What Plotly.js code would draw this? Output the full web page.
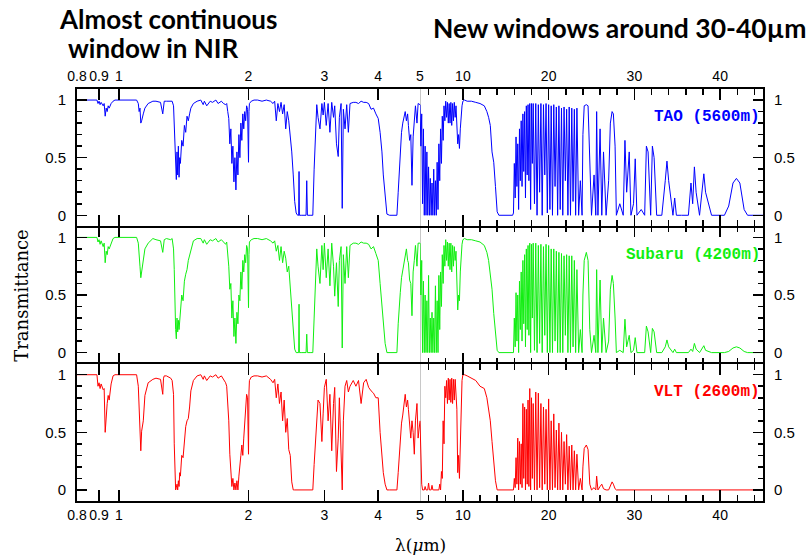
<!DOCTYPE html>
<html>
<head>
<meta charset="utf-8">
<script src="https://cdn.plot.ly/plotly-3.0.1.min.js"></script>
<style>
  html, body { margin: 0; padding: 0; background: #ffffff; }
  #chart { width: 810px; height: 556px; }
</style>
</head>
<body>
<div id="chart"></div>
<script>
// Wavelength grid (micrometres), shared by the three sites
const wavelength = [
  0.80, 0.89, 0.895, 0.90, 0.905, 0.91, 0.92, 0.925, 0.93, 0.935, 0.94, 0.945, 0.95, 0.96, 0.97, 0.98,
  1.10, 1.11, 1.115, 1.12, 1.125, 1.13, 1.14, 1.15, 1.17, 1.20,
  1.22, 1.25, 1.265, 1.27, 1.275, 1.29, 1.32,
  1.33, 1.34, 1.345, 1.35, 1.355, 1.36, 1.365, 1.37, 1.375, 1.38, 1.385, 1.39, 1.40, 1.41, 1.42, 1.43, 1.44, 1.45, 1.46, 1.47, 1.49, 1.52,
  1.55, 1.57, 1.58, 1.60, 1.63, 1.65, 1.68, 1.70, 1.73, 1.75, 1.77,
  1.78, 1.79, 1.80, 1.81, 1.82, 1.83, 1.84, 1.85, 1.86, 1.87, 1.88, 1.89, 1.90, 1.91, 1.92, 1.93, 1.94, 1.95, 1.96, 1.97, 1.98, 1.99, 2.00, 2.005, 2.01, 2.03, 2.06,
  2.10, 2.15, 2.20, 2.25, 2.28, 2.30, 2.32, 2.34, 2.36, 2.38, 2.40, 2.42, 2.44, 2.46, 2.48, 2.50, 2.52, 2.54, 2.56, 2.58, 2.60, 2.615, 2.62, 2.625, 2.65, 2.70, 2.72, 2.73, 2.74, 2.78, 2.82,
  2.84, 2.86, 2.88, 2.90, 2.93, 2.96, 2.98, 3.00, 3.03, 3.06, 3.09, 3.12, 3.15, 3.17, 3.20, 3.23, 3.25, 3.28, 3.30, 3.32, 3.35, 3.38, 3.41, 3.44, 3.50,
  3.55, 3.60, 3.65, 3.70, 3.75, 3.80, 3.85, 3.90, 3.95, 4.00, 4.04, 4.08, 4.11, 4.15, 4.19, 4.25, 4.30, 4.35, 4.40, 4.42,
  4.45, 4.48, 4.50, 4.53, 4.56, 4.60, 4.62, 4.65, 4.68, 4.70, 4.73, 4.76, 4.79, 4.82, 4.85, 4.88, 4.92, 4.95, 5.00,
  5.1, 5.2, 5.3, 5.4, 5.5, 5.6, 5.7, 5.8, 5.9,
  6.0, 6.1, 6.2, 6.3, 6.4, 6.5, 6.6, 6.7, 6.8, 6.9,
  7.0, 7.1, 7.2, 7.3, 7.4, 7.5, 7.6, 7.7, 7.8, 7.9,
  8.0, 8.1, 8.2, 8.3, 8.4, 8.5, 8.6, 8.7, 8.8, 8.9,
  9.0, 9.1, 9.2, 9.3, 9.4, 9.5, 9.6, 9.7, 9.8, 9.9, 10.0,
  10.2, 10.5, 11.0, 11.5, 12.0, 12.5, 12.8, 13.0, 13.2, 13.4, 13.6, 13.8, 14.0, 14.2, 15.0, 15.7,
  15.8, 15.9, 16.0, 16.1, 16.2, 16.3, 16.4, 16.5, 16.6, 16.7, 16.8, 16.9, 17.0, 17.1, 17.2, 17.3, 17.4, 17.5, 17.6, 17.7, 17.8, 17.9, 18.0, 18.1, 18.2,
  18.35, 18.5, 18.65, 18.8, 18.95, 19.1, 19.25, 19.4, 19.55, 19.7, 19.85, 20.0, 20.15, 20.3, 20.45, 20.6, 20.75, 20.9, 21.05, 21.2, 21.35, 21.5, 21.65, 21.8, 21.95, 22.1, 22.25, 22.4, 22.55, 22.7, 22.85, 23.0, 23.15, 23.3,
  23.5, 23.7, 23.9, 24.0, 24.15,
  24.4, 24.6, 24.8, 25.0, 25.3,
  25.5, 25.6, 25.75, 26.0, 26.2,
  26.4, 26.7, 27.0, 27.2, 27.4,
  27.55, 27.75, 27.9, 28.3, 28.7,
  28.9, 29.1, 29.4, 29.6, 29.9,
  30.1, 30.3, 30.8, 31.2, 31.4,
  31.6, 31.9, 32.1, 32.3, 32.6,
  33.2, 33.6, 33.8, 34.0, 34.5,
  34.7, 34.9, 35.5, 36.3, 36.6,
  36.8, 37.0, 37.2, 37.6, 37.9,
  38.1, 38.3, 39.0, 40.5, 41.0,
  41.5, 41.9, 42.3, 42.8, 43.2,
  44.0, 45.0
];

// TAO (5600 m) transmittance
const taoT = [
  1.0, 1.0, 0.97, 0.99, 0.96, 0.98, 0.95, 0.97, 0.86, 0.93, 0.9, 0.95, 0.93, 0.97, 0.99, 1.0,
  1.0, 0.97, 0.9, 0.93, 0.8, 0.82, 0.88, 0.93, 0.97, 0.99,
  0.99, 0.98, 0.88, 0.97, 0.99, 0.99, 0.99,
  0.99, 0.95, 0.8, 0.6, 0.4, 0.31, 0.55, 0.35, 0.6, 0.33, 0.5, 0.45, 0.65, 0.6, 0.78, 0.72, 0.86, 0.82, 0.88, 0.93, 0.97, 0.99,
  1.0, 0.96, 0.99, 0.95, 0.99, 0.98, 1.0, 0.97, 0.99, 0.97, 0.96,
  0.97, 0.9, 0.84, 0.62, 0.75, 0.45, 0.6, 0.29, 0.5, 0.22, 0.55, 0.35, 0.7, 0.5, 0.8, 0.65, 0.88, 0.75, 0.9, 0.82, 0.95, 0.92, 0.46, 0.9, 0.97, 0.99, 1.0,
  1.0, 0.99, 1.0, 0.99, 0.97, 0.99, 0.82, 0.97, 0.9, 0.98, 0.88, 0.96, 0.75, 0.9, 0.82, 0.7, 0.55, 0.35, 0.12, 0.02, 0.0, 0.0, 0.38, 0.0, 0.0, 0.0, 0.0, 0.3, 0.0, 0.0, 0.0,
  0.4, 0.75, 0.96, 0.85, 0.75, 0.97, 0.87, 0.98, 0.78, 0.97, 0.72, 0.98, 0.85, 0.95, 0.62, 0.51, 0.85, 0.97, 0.06, 0.92, 0.75, 0.96, 0.72, 0.97, 0.98,
  0.98, 0.97, 0.99, 0.98, 0.98, 0.97, 0.92, 0.93, 0.88, 0.84, 0.72, 0.55, 0.35, 0.17, 0.01, 0.0, 0.0, 0.0, 0.0, 0.0,
  0.2, 0.45, 0.55, 0.72, 0.8, 0.88, 0.9, 0.82, 0.88, 0.78, 0.65, 0.7, 0.26, 0.68, 0.88, 0.95, 0.8, 0.97, 0.96,
  0.6, 0.88, 0.1, 0.75, 0.0, 0.6, 0.0, 0.55, 0.0,
  0.42, 0.0, 0.32, 0.0, 0.28, 0.0, 0.4, 0.0, 0.3, 0.0,
  0.46, 0.05, 0.62, 0.3, 0.75, 0.45, 0.86, 0.65, 0.95, 0.82,
  0.99, 0.85, 0.98, 0.8, 0.97, 0.8, 0.98, 0.78, 0.97, 0.82,
  0.98, 0.85, 0.95, 0.75, 0.62, 0.7, 0.58, 0.75, 0.9, 0.95, 0.99,
  1.0, 0.99, 0.99, 0.98, 0.97, 0.95, 0.9, 0.85, 0.78, 0.55, 0.46, 0.25, 0.03, 0.0, 0.0, 0.0,
  0.0, 0.02, 0.45, 0.15, 0.68, 0.25, 0.62, 0.05, 0.75, 0.3, 0.82, 0.25, 0.88, 0.38, 0.9, 0.15, 0.95, 0.35, 0.96, 0.3, 0.97, 0.05, 0.97, 0.45, 0.97,
  0.1, 0.97, 0.0, 0.96, 0.2, 0.97, 0.0, 0.96, 0.35, 0.97, 0.02, 0.96, 0.05, 0.95, 0.0, 0.96, 0.25, 0.94, 0.0, 0.95, 0.05, 0.93, 0.0, 0.94, 0.3, 0.92, 0.0, 0.94, 0.0, 0.93, 0.12, 0.92, 0.0, 0.93,
  0.0, 0.3, 0.0, 0.7, 0.95,
  0.96, 0.95, 0.4, 0.0, 0.35,
  0.0, 0.9, 0.0, 0.75, 0.0,
  0.55, 0.0, 0.3, 0.8, 0.9,
  0.88, 0.6, 0.0, 0.1, 0.0,
  0.65, 0.2, 0.55, 0.0, 0.1,
  0.49, 0.0, 0.05, 0.0, 0.6,
  0.55, 0.0, 0.6, 0.5, 0.0,
  0.0, 0.3, 0.47, 0.3, 0.0,
  0.15, 0.0, 0.0, 0.0, 0.28,
  0.1, 0.42, 0.2, 0.0, 0.25,
  0.36, 0.2, 0.0, 0.0, 0.08,
  0.28, 0.32, 0.28, 0.05, 0.0,
  0.0, 0.0
];

// Subaru (4200 m) transmittance
const subaruT = [
  1.0, 1.0, 0.96, 0.98, 0.94, 0.97, 0.92, 0.95, 0.78, 0.88, 0.85, 0.92, 0.9, 0.95, 0.99, 1.0,
  1.0, 0.95, 0.8, 0.75, 0.65, 0.7, 0.8, 0.9, 0.95, 0.99,
  0.98, 0.97, 0.87, 0.96, 0.98, 0.99, 0.98,
  0.99, 0.9, 0.72, 0.3, 0.2, 0.12, 0.3, 0.18, 0.28, 0.2, 0.3, 0.35, 0.5, 0.45, 0.62, 0.68, 0.72, 0.8, 0.85, 0.9, 0.97, 0.99,
  0.99, 0.95, 0.98, 0.94, 0.98, 0.97, 0.99, 0.96, 0.98, 0.96, 0.94,
  0.96, 0.88, 0.75, 0.55, 0.6, 0.3, 0.45, 0.14, 0.3, 0.08, 0.35, 0.25, 0.5, 0.45, 0.7, 0.55, 0.8, 0.7, 0.85, 0.78, 0.93, 0.9, 0.39, 0.85, 0.96, 0.98, 0.99,
  0.99, 0.98, 0.99, 0.97, 0.95, 0.97, 0.88, 0.93, 0.8, 0.92, 0.78, 0.88, 0.82, 0.7, 0.75, 0.55, 0.4, 0.25, 0.03, 0.0, 0.0, 0.0, 0.42, 0.0, 0.0, 0.0, 0.0, 0.16, 0.0, 0.0, 0.0,
  0.3, 0.7, 0.9, 0.75, 0.6, 0.93, 0.72, 0.95, 0.65, 0.9, 0.58, 0.95, 0.75, 0.49, 0.78, 0.4, 0.8, 0.92, 0.04, 0.85, 0.6, 0.92, 0.65, 0.93, 0.95,
  0.95, 0.94, 0.96, 0.95, 0.95, 0.94, 0.9, 0.92, 0.86, 0.8, 0.6, 0.42, 0.25, 0.08, 0.0, 0.0, 0.0, 0.0, 0.0, 0.0,
  0.25, 0.45, 0.52, 0.65, 0.72, 0.82, 0.85, 0.9, 0.8, 0.78, 0.63, 0.6, 0.32, 0.7, 0.8, 0.93, 0.75, 0.95, 0.95,
  0.5, 0.8, 0.0, 0.62, 0.0, 0.5, 0.0, 0.45, 0.0,
  0.67, 0.0, 0.3, 0.0, 0.35, 0.0, 0.3, 0.0, 0.58, 0.0,
  0.45, 0.0, 0.67, 0.2, 0.7, 0.4, 0.85, 0.6, 0.93, 0.75,
  0.98, 0.8, 0.96, 0.75, 0.95, 0.72, 0.95, 0.7, 0.93, 0.75,
  0.92, 0.8, 0.88, 0.58, 0.37, 0.5, 0.45, 0.7, 0.9, 0.94, 0.98,
  0.99, 0.98, 0.98, 0.97, 0.96, 0.93, 0.87, 0.8, 0.69, 0.55, 0.34, 0.15, 0.02, 0.0, 0.0, 0.0,
  0.0, 0.0, 0.3, 0.05, 0.52, 0.1, 0.5, 0.0, 0.62, 0.2, 0.7, 0.1, 0.8, 0.25, 0.85, 0.05, 0.9, 0.2, 0.93, 0.15, 0.95, 0.0, 0.94, 0.3, 0.95,
  0.02, 0.95, 0.0, 0.93, 0.08, 0.94, 0.0, 0.92, 0.15, 0.94, 0.0, 0.93, 0.0, 0.9, 0.0, 0.9, 0.1, 0.88, 0.0, 0.87, 0.0, 0.86, 0.0, 0.84, 0.15, 0.85, 0.0, 0.84, 0.0, 0.84, 0.05, 0.8, 0.0, 0.72,
  0.0, 0.2, 0.0, 0.5, 0.8,
  0.87, 0.8, 0.2, 0.0, 0.15,
  0.0, 0.72, 0.0, 0.63, 0.0,
  0.3, 0.0, 0.1, 0.55, 0.67,
  0.6, 0.3, 0.0, 0.02, 0.0,
  0.29, 0.05, 0.15, 0.0, 0.02,
  0.13, 0.0, 0.0, 0.0, 0.23,
  0.18, 0.0, 0.21, 0.18, 0.0,
  0.0, 0.05, 0.11, 0.05, 0.0,
  0.03, 0.0, 0.0, 0.0, 0.03,
  0.01, 0.08, 0.03, 0.0, 0.03,
  0.06, 0.02, 0.0, 0.0, 0.01,
  0.04, 0.05, 0.04, 0.01, 0.0,
  0.0, 0.0
];

// VLT (2600 m) transmittance
const vltT = [
  1.0, 1.0, 0.9, 0.93, 0.88, 0.92, 0.87, 0.88, 0.5, 0.66, 0.75, 0.82, 0.78, 0.92, 0.99, 1.0,
  1.0, 0.9, 0.75, 0.55, 0.34, 0.51, 0.6, 0.82, 0.93, 0.96,
  0.97, 0.96, 0.83, 0.97, 0.99, 0.99, 0.97,
  0.95, 0.83, 0.4, 0.1, 0.0, 0.02, 0.05, 0.0, 0.08, 0.03, 0.15, 0.12, 0.3, 0.28, 0.45, 0.55, 0.6, 0.62, 0.72, 0.86, 0.95, 0.99,
  1.0, 0.96, 0.99, 0.95, 0.99, 0.98, 1.0, 0.97, 0.99, 0.96, 0.93,
  0.9, 0.75, 0.6, 0.31, 0.2, 0.03, 0.1, 0.0, 0.06, 0.0, 0.08, 0.0, 0.12, 0.19, 0.3, 0.39, 0.3, 0.45, 0.6, 0.7, 0.83, 0.8, 0.31, 0.85, 0.95, 0.98, 0.99,
  0.99, 0.98, 0.99, 0.96, 0.93, 0.96, 0.8, 0.92, 0.75, 0.85, 0.6, 0.78, 0.5, 0.62, 0.35, 0.3, 0.07, 0.0, 0.0, 0.0, 0.0, 0.0, 0.0, 0.0, 0.0, 0.0, 0.0, 0.0, 0.0, 0.0, 0.0,
  0.22, 0.42, 0.6, 0.78, 0.75, 0.42, 0.66, 0.89, 0.96, 0.6, 0.83, 0.34, 0.75, 0.89, 0.16, 0.45, 0.8, 0.31, 0.0, 0.6, 0.9, 0.95, 0.85, 0.9, 0.95,
  0.9, 0.95, 0.75, 0.93, 0.96, 0.89, 0.86, 0.84, 0.8, 0.8, 0.5, 0.3, 0.15, 0.05, 0.0, 0.0, 0.0, 0.0, 0.0, 0.0,
  0.15, 0.3, 0.45, 0.58, 0.65, 0.75, 0.83, 0.72, 0.78, 0.7, 0.6, 0.45, 0.6, 0.5, 0.31, 0.6, 0.75, 0.45, 0.6,
  0.22, 0.05, 0.0, 0.0, 0.0, 0.03, 0.0, 0.0, 0.0,
  0.06, 0.0, 0.0, 0.0, 0.04, 0.0, 0.0, 0.0, 0.0, 0.0,
  0.0, 0.0, 0.0, 0.05, 0.0, 0.16, 0.1, 0.6, 0.4, 0.9,
  0.8, 0.95, 0.75, 0.97, 0.78, 0.96, 0.76, 0.97, 0.75, 0.96,
  0.78, 0.96, 0.8, 0.7, 0.15, 0.3, 0.1, 0.4, 0.85, 0.95, 1.0,
  1.0, 0.99, 0.97, 0.95, 0.9, 0.88, 0.8, 0.7, 0.6, 0.42, 0.25, 0.08, 0.0, 0.0, 0.0, 0.0,
  0.0, 0.0, 0.1, 0.02, 0.28, 0.05, 0.45, 0.0, 0.42, 0.05, 0.4, 0.02, 0.75, 0.1, 0.72, 0.0, 0.7, 0.05, 0.78, 0.03, 0.88, 0.0, 0.8, 0.1, 0.75,
  0.0, 0.85, 0.0, 0.84, 0.02, 0.75, 0.0, 0.72, 0.05, 0.7, 0.0, 0.79, 0.0, 0.6, 0.0, 0.66, 0.02, 0.52, 0.0, 0.58, 0.0, 0.5, 0.0, 0.42, 0.05, 0.48, 0.0, 0.38, 0.0, 0.39, 0.0, 0.34, 0.0, 0.31,
  0.0, 0.1, 0.0, 0.2, 0.36,
  0.39, 0.35, 0.05, 0.0, 0.02,
  0.0, 0.12, 0.0, 0.03, 0.05,
  0.01, 0.0, 0.0, 0.04, 0.07,
  0.05, 0.01, 0.0, 0.0, 0.0,
  0.0, 0.0, 0.0, 0.0, 0.0,
  0.0, 0.0, 0.0, 0.0, 0.0,
  0.0, 0.0, 0.0, 0.0, 0.0,
  0.0, 0.0, 0.0, 0.0, 0.0,
  0.0, 0.0, 0.0, 0.0, 0.0,
  0.0, 0.0, 0.0, 0.0, 0.0,
  0.0, 0.0, 0.0, 0.0, 0.0,
  0.0, 0.0, 0.0, 0.0, 0.0,
  0.0, 0.0
];

const siteNames = ['TAO (5600m)', 'Subaru (4200m)', 'VLT (2600m)'];
const siteColors = ['#0000ff', '#11ee11', '#ff0000'];
const siteSeries = [taoT, subaruT, vltT];

const logTickVals = [0.8, 0.9, 1, 2, 3, 4, 5];
const logTickText = ['0.8', '0.9', '1', '2', '3', '4', '5'];
const linTickVals = [10, 20, 30, 40];
const linTickText = ['10', '20', '30', '40'];
const yTickVals = [0, 0.5, 1];
const yTickText = ['0', '0.5', '1'];
const breakWavelength = 5;
const wavelengthMin = 0.8;
const wavelengthMax = 45;

const headline1 = 'Almost continuous';
const headline2 = 'window in NIR';
const headline3 = 'New windows around 30-40µm';

if (![taoT, subaruT, vltT].every(a => a.length === wavelength.length)) {
  console.error('length mismatch', wavelength.length, taoT.length, subaruT.length, vltT.length);
}

const xTickFont = { family: 'Liberation Sans, Arial, sans-serif', size: 14, color: '#000' };
const yTickFont = { family: 'Liberation Sans, Arial, sans-serif', size: 15, color: '#000' };
const headFontLeft = { family: 'Lato, Open Sans, sans-serif', size: 26, color: '#000', weight: 700 };
const headFontRight = { family: 'Lato, Open Sans, sans-serif', size: 26.5, color: '#000', weight: 700 };
const yRange = [-0.096, 1.096];
const traces = [];
const layout = {
  width: 810, height: 556,
  margin: { l: 77, r: 47, t: 89, b: 55, pad: 0 },
  paper_bgcolor: '#fff', plot_bgcolor: '#fff',
  showlegend: false,
  annotations: [],
  shapes: []
};

const domains = [[2 / 3, 1], [1 / 3, 2 / 3], [0, 1 / 3]];

for (let p = 0; p < 3; p++) {
  const logId = 2 * p + 1, linId = 2 * p + 2, yId = p + 1, yrId = p + 4;
  const xl = logId === 1 ? 'x' : 'x' + logId;
  const xr = 'x' + linId;
  const yl = yId === 1 ? 'y' : 'y' + yId;
  const yr = 'y' + yrId;
  const T = siteSeries[p];
  const lo = { x: [], y: [] }, hi = { x: [], y: [] };
  wavelength.forEach((w, i) => {
    if (w <= breakWavelength) { lo.x.push(w); lo.y.push(T[i]); }
    if (w >= breakWavelength) { hi.x.push(w); hi.y.push(T[i]); }
  });
  const lineStyle = { color: siteColors[p], width: 1 };
  traces.push({ type: 'scatter', mode: 'lines', x: lo.x, y: lo.y, xaxis: xl, yaxis: yl, line: lineStyle, hoverinfo: 'skip' });
  traces.push({ type: 'scatter', mode: 'lines', x: hi.x, y: hi.y, xaxis: xr, yaxis: yl, line: lineStyle, hoverinfo: 'skip' });
  traces.push({ type: 'scatter', mode: 'lines', x: [], y: [], xaxis: xr, yaxis: yr, hoverinfo: 'skip' });

  const showLabels = p !== 1;
  const side = p === 0 ? 'top' : 'bottom';
  const common = {
    anchor: yl, side: side, showline: p !== 1, linewidth: 2, linecolor: '#000',
    mirror: 'ticks', ticks: 'inside', ticklen: 11, tickwidth: 1.5, tickcolor: '#000',
    showgrid: false, zeroline: false, showticklabels: showLabels, tickfont: xTickFont,
    tickangle: 0, fixedrange: true
  };
  layout['xaxis' + (logId === 1 ? '' : logId)] = Object.assign({}, common, {
    type: 'log', domain: [0, 0.5],
    range: [Math.log10(wavelengthMin), Math.log10(breakWavelength)],
    tickmode: 'array', tickvals: logTickVals, ticktext: logTickText
  });
  layout['xaxis' + linId] = Object.assign({}, common, {
    type: 'linear', domain: [0.5, 1], range: [breakWavelength, wavelengthMax],
    tickmode: 'array', tickvals: linTickVals, ticktext: linTickText,
    minor: { tickmode: 'linear', tick0: 0, dtick: 2, ticks: 'inside', ticklen: 6, tickwidth: 1.5, tickcolor: '#000' }
  });
  const ycommon = {
    domain: domains[p], range: yRange, showline: true, linewidth: 2, linecolor: '#000',
    ticks: 'inside', ticklen: 10, tickwidth: 1.5, tickcolor: '#000',
    tickmode: 'array', tickvals: yTickVals, ticktext: yTickText,
    minor: { tickmode: 'linear', tick0: 0, dtick: 0.1, ticks: 'inside', ticklen: 5, tickwidth: 1.5, tickcolor: '#000' },
    showgrid: false, zeroline: false, tickfont: yTickFont, ticklabelstandoff: 6, fixedrange: true
  };
  layout['yaxis' + (yId === 1 ? '' : yId)] = Object.assign({}, ycommon, { anchor: xl, side: 'left', mirror: false });
  layout['yaxis' + yrId] = Object.assign({}, ycommon, { anchor: xr, side: 'right', overlaying: yl, mirror: false });

  layout.annotations.push({
    xref: 'paper', yref: yl, x: 0.998, y: 0.85, xanchor: 'right', yanchor: 'middle',
    text: siteNames[p], showarrow: false,
    font: { family: 'Liberation Mono, DejaVu Sans Mono, monospace', size: 16, color: siteColors[p], weight: 700 }
  });
  layout.shapes.push({
    type: 'line', xref: xr, yref: yl + ' domain', x0: breakWavelength, x1: breakWavelength, y0: 0, y1: 1,
    line: { color: '#c8c8c8', width: 2 }, layer: 'below'
  });
}

layout.annotations.push(
  { xref: 'paper', yref: 'paper', x: -0.082, y: 0.5, xanchor: 'center', yanchor: 'middle', textangle: -90,
    text: 'Transmittance', showarrow: false,
    font: { family: 'DejaVu Serif, Liberation Serif, serif', size: 18, color: '#000' } },
  { xref: 'paper', yref: 'paper', x: 0.5, y: -0.108, xanchor: 'center', yanchor: 'middle',
    text: 'λ(<i>μ</i>m)', showarrow: false,
    font: { family: 'DejaVu Serif, Liberation Serif, serif', size: 17, color: '#000' } },
  { xref: 'paper', yref: 'paper', x: -0.028, y: 1.170, xanchor: 'left', yanchor: 'middle', borderpad: 0,
    text: headline1, showarrow: false, font: headFontLeft },
  { xref: 'paper', yref: 'paper', x: -0.015, y: 1.0995, xanchor: 'left', yanchor: 'middle', borderpad: 0,
    text: headline2, showarrow: false, font: headFontLeft },
  { xref: 'paper', yref: 'paper', x: 0.5175, y: 1.147, xanchor: 'left', yanchor: 'middle', borderpad: 0,
    text: headline3, showarrow: false, font: headFontRight }
);

Plotly.newPlot('chart', traces, layout, { staticPlot: true, displayModeBar: false });
</script>
</body>
</html>
